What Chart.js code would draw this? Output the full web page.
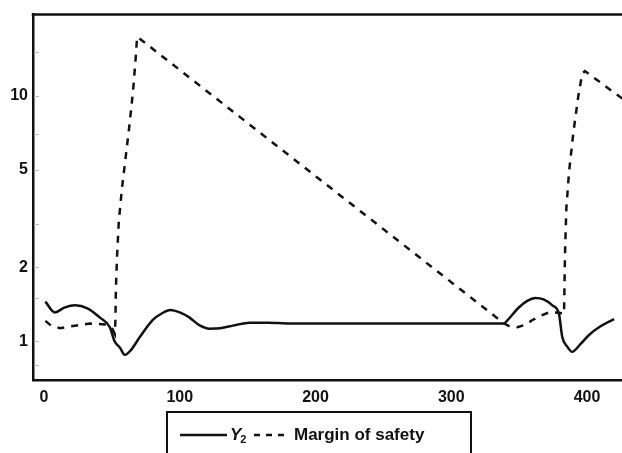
<!DOCTYPE html>
<html>
<head>
<meta charset="utf-8">
<script src="https://cdn.jsdelivr.net/npm/chart.js@4/dist/chart.umd.min.js"></script>
<style>
  html, body { margin: 0; padding: 0; background: #ffffff; }
  #wrap { width: 622px; height: 453px; }
</style>
</head>
<body>
<div id="wrap"><canvas id="c" width="622" height="453"></canvas></div>
<script>
// Y2 response (solid line)
const y2X = [1, 8, 15, 23, 32, 41, 48.5, 52, 56, 59.6, 64, 70.6, 80, 87, 93, 100, 107, 114.7, 122, 130, 140, 151.5, 165, 181, 250, 339,
  341, 350, 356, 362, 368, 374.5, 379.4, 381.8, 385.5, 389, 395, 401.5, 410, 420];
const y2Values = [1.45, 1.31, 1.37, 1.40, 1.36, 1.25, 1.14, 1.00, 0.94, 0.88, 0.92, 1.04, 1.22, 1.30, 1.34, 1.31, 1.25, 1.16, 1.125, 1.13, 1.16, 1.19, 1.19, 1.18, 1.18, 1.18,
  1.21, 1.375, 1.46, 1.50, 1.48, 1.40, 1.29, 1.04, 0.95, 0.905, 0.97, 1.06, 1.15, 1.23];

// Margin of safety (dashed line)
const marginX = [1, 5, 11.8, 20, 33.8, 45, 49.8, 52.2, 52.6, 53.0, 53.9, 55.1, 57.4, 60.3, 63.2, 65.7, 67.6, 68.6,
  339, 343, 348.8, 355, 359.8, 366, 372, 377, 381.8, 383.1, 383.8, 384.8, 386.8, 390, 393.6, 396.5, 398.5, 419.9, 426];
const marginValues = [1.21, 1.16, 1.13, 1.15, 1.18, 1.17, 1.14, 1.07, 1.22, 1.66, 2.26, 3.07, 4.18, 5.7, 7.8, 10.6, 14.4, 17.4,
  1.18, 1.15, 1.14, 1.17, 1.22, 1.27, 1.31, 1.31, 1.30, 1.29, 2.26, 3.48, 4.9, 7.1, 9.96, 12.3, 12.6, 10.3, 9.75];

const xTickValues = [0, 100, 200, 300, 400];
const yTickValues = [1, 2, 5, 10];
const yMinorTickValues = [0.8, 1.5, 3, 7, 15];

const FONT = '"Liberation Sans", Arial, sans-serif';

const toPoints = (xs, ys) => xs.map((x, i) => ({ x: x, y: ys[i] }));

// Top frame line and the small inward ticks on the y axis
const frame = {
  id: 'frame',
  afterDatasetsDraw(chart) {
    const { ctx, chartArea } = chart;
    const yScale = chart.scales.y;
    ctx.save();
    ctx.strokeStyle = '#bdbdbd';
    ctx.lineWidth = 1;
    yTickValues.concat(yMinorTickValues).forEach(v => {
      const py = Math.round(yScale.getPixelForValue(v)) + 0.5;
      ctx.beginPath();
      ctx.moveTo(chartArea.left + 1, py);
      ctx.lineTo(chartArea.left + 6, py);
      ctx.stroke();
    });
    ctx.strokeStyle = '#111111';
    ctx.lineWidth = 2.5;
    ctx.beginPath();
    ctx.moveTo(chartArea.left - 1.25, chartArea.top);
    ctx.lineTo(chartArea.right, chartArea.top);
    ctx.stroke();
    ctx.restore();
  }
};

// Boxed legend below the axis
const boxedLegend = {
  id: 'boxedLegend',
  afterDraw(chart) {
    const ctx = chart.ctx;
    const sets = chart.data.datasets;
    const cy = 435;
    ctx.save();
    ctx.strokeStyle = '#111111';
    ctx.lineWidth = 2;
    ctx.strokeRect(167, 412, 304, 60);

    // solid sample
    ctx.lineWidth = 2.5;
    ctx.setLineDash([]);
    ctx.beginPath();
    ctx.moveTo(180, cy);
    ctx.lineTo(227, cy);
    ctx.stroke();

    ctx.fillStyle = '#111111';
    ctx.textBaseline = 'middle';
    ctx.textAlign = 'left';
    const lab0 = sets[0].label;           // "Y₂"
    ctx.font = 'italic bold 17px ' + FONT;
    ctx.fillText(lab0.charAt(0), 230, cy);
    const wY = ctx.measureText(lab0.charAt(0)).width;
    ctx.font = 'bold 11px ' + FONT;
    ctx.fillText('2', 230 + wY - 1, cy + 5);

    // dashed sample
    ctx.lineWidth = 2.5;
    ctx.setLineDash([6, 6]);
    ctx.beginPath();
    ctx.moveTo(254, cy);
    ctx.lineTo(290, cy);
    ctx.stroke();
    ctx.setLineDash([]);

    ctx.font = 'bold 17px ' + FONT;
    ctx.fillText(sets[1].label, 294, cy);
    ctx.restore();
  }
};

new Chart(document.getElementById('c'), {
  type: 'line',
  data: {
    datasets: [
      {
        label: 'Y\u2082',
        data: toPoints(y2X, y2Values),
        borderColor: '#111111',
        borderWidth: 2.5,
        pointRadius: 0,
        cubicInterpolationMode: 'monotone',
        fill: false
      },
      {
        label: 'Margin of safety',
        data: toPoints(marginX, marginValues),
        borderColor: '#111111',
        borderWidth: 2.5,
        borderDash: [7, 7],
        pointRadius: 0,
        tension: 0,
        fill: false
      }
    ]
  },
  options: {
    responsive: false,
    animation: false,
    devicePixelRatio: 1,
    layout: { padding: { top: 13, left: 0, right: 0, bottom: 43 } },
    plugins: {
      legend: { display: false },
      tooltip: { enabled: false }
    },
    scales: {
      x: {
        type: 'linear',
        min: -8.1,
        max: 425.8,
        afterFit(scale) { scale.height = 30; },
        afterBuildTicks(scale) { scale.ticks = xTickValues.map(v => ({ value: v })); },
        grid: { display: false, drawTicks: false },
        border: { display: true, color: '#111111', width: 2.5 },
        ticks: {
          padding: 8,
          color: '#111111',
          maxRotation: 0,
          autoSkip: false,
          font: { family: FONT, size: 16, weight: 'bold' },
          callback: v => String(v)
        }
      },
      y: {
        type: 'logarithmic',
        min: 0.695,
        max: 21.4,
        afterFit(scale) { scale.width = 33; },
        afterBuildTicks(scale) { scale.ticks = yTickValues.map(v => ({ value: v })); },
        grid: { display: false, drawTicks: false },
        border: { display: true, color: '#111111', width: 2.5 },
        ticks: {
          padding: 5,
          color: '#111111',
          autoSkip: false,
          font: { family: FONT, size: 16, weight: 'bold' },
          callback: v => String(v)
        }
      }
    }
  },
  plugins: [frame, boxedLegend]
});
</script>
</body>
</html>
